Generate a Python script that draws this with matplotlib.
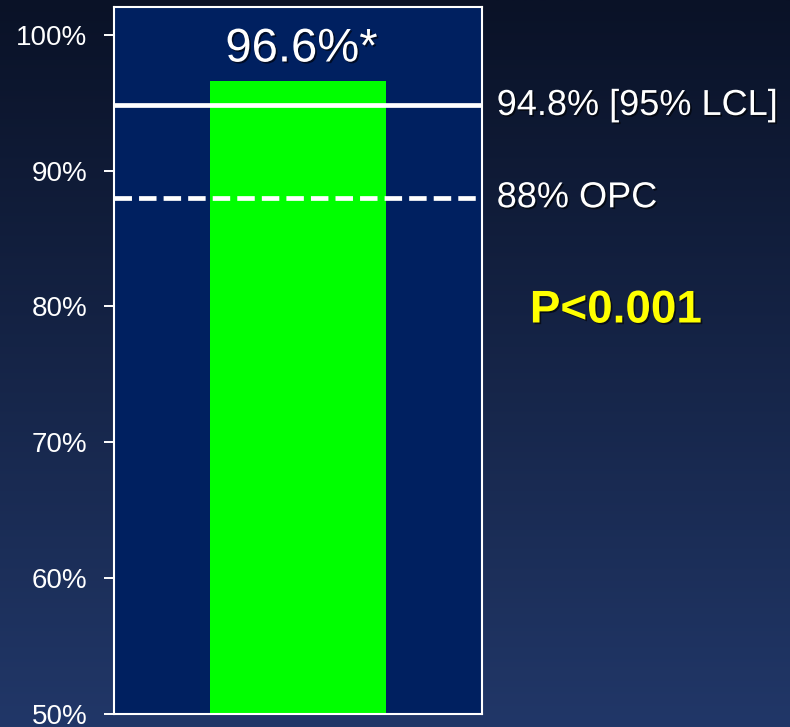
import matplotlib.pyplot as plt
import matplotlib.patheffects as pe
import numpy as np

plt.rcParams['font.family'] = ['Liberation Sans', 'DejaVu Sans']

# data
groups = ['']
rates = [96.6]
rate_labels = ['96.6%*']
lcl = 94.8
lcl_label = '94.8% [95% LCL]'
opc = 88.0
opc_label = '88% OPC'
p_label = 'P<0.001'
yticks = [50, 60, 70, 80, 90, 100]
ytick_labels = ['50%', '60%', '70%', '80%', '90%', '100%']

fig = plt.figure(figsize=(7.9, 7.27), dpi=100)

# slide background: vertical gradient dark -> lighter navy
bg = fig.add_axes([0, 0, 1, 1], zorder=-1)
top = np.array([0x0a, 0x12, 0x27]) / 255
bot = np.array([0x21, 0x37, 0x68]) / 255
t = np.linspace(0, 1, 256)[:, None]
grad = (top[None, :] * (1 - t) + bot[None, :] * t)[:, None, :]
bg.imshow(grad, aspect='auto', extent=[0, 1, 0, 1])
bg.axis('off')

ax = fig.add_axes([114 / 790, 13.2 / 727, 368 / 790, 706.8 / 727])
ax.set_facecolor('#002060')

x = np.arange(len(groups))
ax.bar(x, rates, width=0.477, bottom=0, color='#00ff00', zorder=2)
ax.set_xlim(-0.5, 0.5)
ax.set_ylim(50, 102.05)

shadow = [pe.SimplePatchShadow(offset=(1.2, -1.2), shadow_rgbFace='black', alpha=0.6), pe.Normal()]

for xi, r, lab in zip(x, rates, rate_labels):
    ax.text(xi + 0.01, r + 0.7, lab, ha='center', va='bottom', fontsize=34,
            color='white', path_effects=shadow, zorder=4)

ax.axhline(lcl, color='white', lw=3.4, zorder=3)
ax.axhline(opc, xmin=0, xmax=0.985, color='white', lw=3.4,
           dashes=(3.7, 1.5), dash_capstyle='butt', zorder=3)

ax.text(1.04, lcl, lcl_label, transform=ax.get_yaxis_transform(), ha='left', va='center',
        fontsize=26, color='white', path_effects=shadow, clip_on=False)
ax.text(1.04, opc, opc_label, transform=ax.get_yaxis_transform(), ha='left', va='center',
        fontsize=26, color='white', path_effects=shadow, clip_on=False)
ax.text(1.13, 79.7, p_label, transform=ax.get_yaxis_transform(), ha='left', va='center',
        fontsize=33, fontweight='bold', color='#ffff00', path_effects=shadow, clip_on=False)

ax.set_yticks(yticks)
ax.set_yticklabels(ytick_labels)
ax.set_xticks([])
ax.tick_params(axis='y', colors='white', labelsize=20, length=7.2, width=1.4, pad=12)
for s in ax.spines.values():
    s.set_color('white')
    s.set_linewidth(1.5)

fig.savefig('out.png', dpi=100)
